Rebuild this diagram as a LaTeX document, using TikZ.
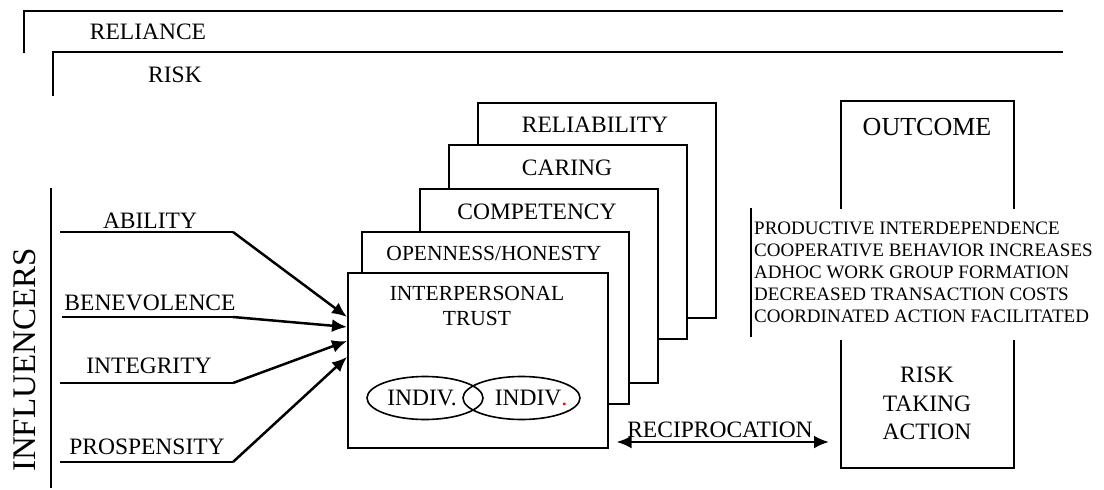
\documentclass[tikz,border=0pt]{standalone}
\usepackage{fontspec}
\setmainfont{Liberation Serif}
\usetikzlibrary{arrows.meta,shapes.geometric}
\newcommand\lbltxt{\fontsize{23.5}{28.5}\selectfont}
\newcommand\paneltxt{\fontsize{21.5}{25}\selectfont}
\newcommand\listtxt{\fontsize{19}{22}\selectfont}
\newcommand\headtxt{\fontsize{26}{30}\selectfont}
\newcommand\sidetxt{\fontsize{33}{36}\selectfont}
\begin{document}
\begin{tikzpicture}[x=1pt,y=-1pt,>={Latex[length=15pt,width=13pt]},line join=miter,
  rule/.style={line width=1.5pt},
  pane/.style={draw,fill=white,line width=1.6pt,anchor=north west,inner sep=0pt},
  cell/.style={draw,ellipse,line width=1.6pt,minimum width=116pt,minimum height=43pt,inner sep=0pt},
  feed/.style={->,line width=2.5pt},
  word/.style={inner sep=0pt,font=\lbltxt,align=center},
]
\useasboundingbox (0,0) rectangle (1104,490);
%%
\draw [rule] (24,53) -- (24,11) -- (1063,11);
\node (reliance) at (148,32) [word] {RELIANCE};
\draw [rule] (53,96) -- (53,52) -- (1063,52);
\node (risk) at (175,75) [word] {RISK};
\node (infl) at (25,360) [rotate=90,inner sep=0pt,font=\sidetxt] {INFLUENCERS};
\draw [rule] (51,188) -- (51,488);
%
\node (reliabox) at (477,102) [pane,minimum width=238pt,minimum height=215pt] {};
\node (reliability) at (595,125) [word] {RELIABILITY};
\node (caringbox) at (448,144) [pane,minimum width=238pt,minimum height=194pt] {};
\node (caring) at (567,168) [word] {CARING};
\node (compbox) at (419,188) [pane,minimum width=238pt,minimum height=194pt] {};
\node (competency) at (537,212) [word] {COMPETENCY};
\node (openbox) at (361,231) [pane,minimum width=267pt,minimum height=172pt] {};
\node (openness) at (494,253) [word,font=\paneltxt] {OPENNESS/HONESTY};
\node (trust) at (347,272) [pane,minimum width=260pt,minimum height=175pt] {};
\node (trustlbl) at (477,305.5) [word,font=\paneltxt] {INTERPERSONAL\\TRUST};
\node (cellA) at (425,398) [cell] {};
\node (cellB) at (521.5,398) [cell,minimum width=117pt] {};
\node (indivA) at (422,398) [word] {INDIV.};
\node (indivB) at (531,398) [word] {INDIV\textcolor{red}{.}};
%
\coordinate (abl0) at (60,232);  \coordinate (abl1) at (233,232);  \coordinate (abl2) at (347,317);
\coordinate (ben0) at (62,317);  \coordinate (ben1) at (233,317);  \coordinate (ben2) at (347,327);
\coordinate (int0) at (60,383);  \coordinate (int1) at (233,383);  \coordinate (int2) at (347,341);
\coordinate (pro0) at (60,462);  \coordinate (pro1) at (233,462);  \coordinate (pro2) at (347,357);
\node (ability) at (150,221) [word] {ABILITY};
\node (benevolence) at (150,303) [word] {BENEVOLENCE};
\node (integrity) at (149,366) [word] {INTEGRITY};
\node (prospensity) at (147,447) [word] {PROSPENSITY};
\draw [rule] (abl0) -- (abl1);
\draw [feed] (abl1) -- (trust.west |- abl2);
\draw [rule] (ben0) -- (ben1);
\draw [feed] (ben1) -- (trust.west |- ben2);
\draw [rule] (int0) -- (int1);
\draw [feed] (int1) -- (trust.west |- int2);
\draw [rule] (pro0) -- (pro1);
\draw [feed] (pro1) -- (trust.west |- pro2);
%
\draw [rule] (841,209) -- (841,101) -- (1014,101) -- (1014,209);
\draw [rule] (841,340) -- (841,468) -- (1014,468) -- (1014,340);
\node (outcome) at (927,127) [word,font=\headtxt] {OUTCOME};
\node (riskact) at (927,403.5) [word] {RISK\\TAKING\\ACTION};
\node (effects) at (751,272.5) [anchor=west,inner xsep=3pt,inner ysep=0pt,minimum height=129pt,align=left,font=\listtxt] {PRODUCTIVE INTERDEPENDENCE\\COOPERATIVE BEHAVIOR INCREASES\\ADHOC WORK GROUP FORMATION\\DECREASED TRANSACTION COSTS\\COORDINATED ACTION FACILITATED};
\draw [rule] (effects.north west) -- (effects.south west);
%
\coordinate (recR) at (829,442);
\node (recip) at (720,430) [word] {RECIPROCATION};
\draw [<->,line width=2.5pt] ([xshift=8pt]trust.east |- recR) -- (recR);
%
\end{tikzpicture}
\end{document}
